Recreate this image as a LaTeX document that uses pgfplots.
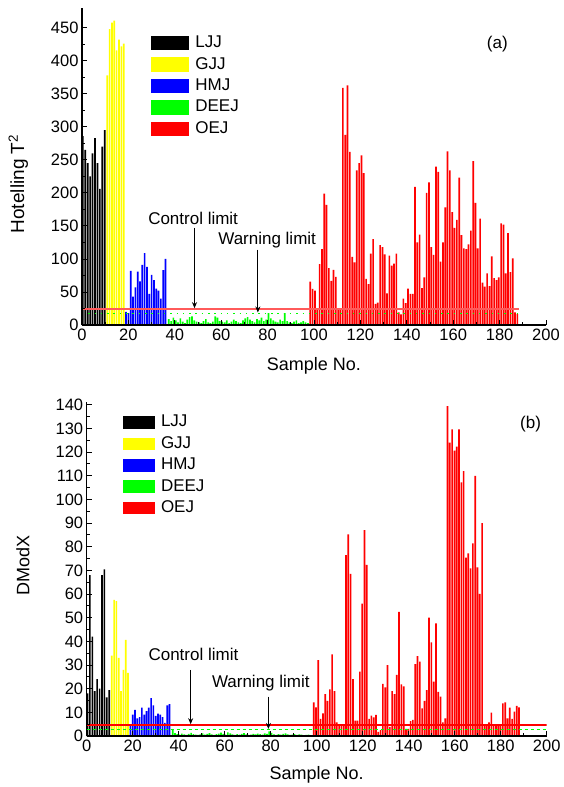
\documentclass[border=0pt]{standalone}
\usepackage{pgfplots}
\pgfplotsset{compat=1.18}
\usepackage{pgfplotstable}
\usepackage{fontspec}
\setmainfont{Liberation Sans}
\usetikzlibrary{arrows.meta}

\definecolor{cK}{RGB}{0,0,0}
\definecolor{cY}{RGB}{255,255,0}
\definecolor{cB}{RGB}{0,0,255}
\definecolor{cG}{RGB}{0,255,0}
\definecolor{cR}{RGB}{255,0,0}
\definecolor{cLR}{RGB}{255,90,90}

% ---------- panel (a) ----------
\pgfplotstableread[row sep=\\]{y\\286\\265\\245\\225\\260\\283\\245\\206\\270\\295\\}\blackA
\pgfplotstableread[row sep=\\]{y\\378\\448\\458\\461\\416\\432\\422\\426\\}\yellowA
\pgfplotstableread[row sep=\\]{y\\20\\18\\82\\43\\57\\81\\66\\91\\109\\88\\47\\76\\68\\55\\52\\40\\83\\100\\}\blueA
\pgfplotstableread[row sep=\\]{y\\9\\6\\11\\7\\4\\10\\5\\3\\8\\12\\13\\7\\5\\4\\3\\6\\9\\4\\3\\5\\13\\11\\6\\5\\4\\7\\3\\5\\8\\6\\4\\3\\7\\10\\12\\8\\6\\4\\9\\7\\11\\6\\8\\18\\10\\7\\5\\4\\8\\6\\18\\6\\4\\3\\5\\7\\3\\4\\6\\4\\3\\}\greenA
\pgfplotstableread[row sep=\\]{y\\65.8\\54.6\\52\\23\\92\\115\\199\\182\\86\\66.8\\83.5\\73\\23\\23\\359\\288\\363\\262\\103\\95\\234\\245\\257\\230\\70\\62\\108\\130\\32\\34\\121\\118\\107\\48\\105\\90\\93\\108\\19\\16\\40\\33\\55\\47\\47\\209\\125\\137\\56\\72\\200\\216\\118\\106\\240\\232\\96\\125\\178\\263\\234\\171\\147\\159\\223\\136\\116\\115\\122\\143\\248\\185\\116\\161\\64\\58\\78\\59\\104\\71\\68\\72\\154\\152\\78\\139\\80\\101\\19\\17\\}\redA

% ---------- panel (b) ----------
\pgfplotstableread[row sep=\\]{y\\18\\68\\42\\19\\24\\20\\68\\70.4\\16.3\\19.4\\}\blackB
\pgfplotstableread[row sep=\\]{y\\34\\57.5\\57\\33\\19\\28\\40.6\\26.7\\}\yellowB
\pgfplotstableread[row sep=\\]{y\\5\\9\\11\\7.5\\8\\12\\9\\10.5\\12\\16\\13\\8.5\\9.5\\9\\8\\5.5\\13\\13.5\\}\blueB
\pgfplotstableread[row sep=\\]{y\\2.5\\1.2\\0.8\\0.6\\1.0\\0.7\\0.5\\0.9\\1.3\\0.8\\0.6\\0.5\\0.7\\1.1\\0.6\\0.9\\1.2\\0.7\\0.5\\0.8\\1.0\\1.4\\0.9\\0.6\\1.5\\1.1\\0.7\\0.5\\0.8\\0.6\\0.9\\1.2\\0.7\\0.5\\0.6\\0.9\\0.7\\1.0\\0.8\\0.6\\1.1\\0.9\\2.0\\1.3\\0.7\\0.5\\0.8\\0.6\\0.9\\1.1\\0.7\\0.5\\0.6\\0.8\\0.5\\0.7\\0.6\\0.4\\0.5\\0.6\\0.4\\}\greenB
\pgfplotstableread[row sep=\\]{y\\14.2\\12.1\\32.1\\7.2\\9.6\\17.7\\14.8\\19.7\\34.5\\19\\5.8\\4.6\\4.4\\4.4\\76.5\\85.2\\68.5\\24\\6.5\\6.5\\27.2\\56\\87\\72.3\\7.2\\8.6\\7.9\\8.9\\1.8\\2.5\\22\\20.6\\30\\3.9\\19\\17.7\\25.8\\52.5\\21.8\\21\\3\\3\\6.3\\6.8\\30.4\\33.8\\31.4\\11.7\\14.8\\19.4\\50\\39.6\\23\\47.6\\18.7\\16.6\\5.8\\7.5\\139.4\\124\\129.6\\120.6\\122.3\\129.6\\107.2\\112\\75.4\\77.2\\70.8\\81.4\\110\\71.3\\60.1\\90\\4.4\\4.6\\5.8\\9.9\\4.2\\4.2\\5\\5\\13.8\\14.2\\7.5\\12\\7.2\\10.3\\12.7\\12.1\\}\redB

\pgfplotsset{
  mybarA/.style={ybar, bar width=0.72, bar shift=0pt, draw=none, fill=#1,
    legend image code/.code={\fill[fill=#1] (0pt,-7.2pt) rectangle (38pt,7.2pt);}},
  mybarB/.style={ybar, bar width=0.72, bar shift=0pt, draw=none, fill=#1,
    legend image code/.code={\fill[fill=#1] (0pt,-6.3pt) rectangle (32pt,6.3pt);}},
  myaxis/.style={
    scale only axis, axis on top,
    axis x line*=bottom, axis y line*=left,
    tick align=inside, major tick length=5pt, minor tick length=3pt,
    xmin=0, xmax=200, xtick={0,20,...,200}, minor x tick num=1,
    tick style={black, line width=0.9pt},
    axis line style={line width=1.2pt},
    tick label style={font=\fontsize{16.5}{18}\selectfont},
    label style={font=\fontsize{18}{20}\selectfont},
    /pgf/number format/assume math mode=true,
    xlabel={Sample No.},
    legend cell align=left,
    legend style={draw=none, fill=none, inner sep=0pt,
      font=\fontsize{17}{19}\selectfont, row sep=4.4pt, column sep=5pt,
      nodes={font=\fontsize{17}{19}\selectfont, inner sep=1pt, text height=12pt, text depth=3pt}},
  }
}

\begin{document}
\begin{tikzpicture}
\useasboundingbox (0pt,0pt) rectangle (563pt,-787pt);

% ================= (a) =================
\begin{axis}[myaxis, at={(82pt,-325pt)}, anchor=south west,
  width=464pt, height=317pt, ymin=0, ymax=480,
  ytick={0,50,...,450}, minor y tick num=1,
  ylabel={Hotelling T\textsuperscript{2}},
  ylabel style={at={(axis description cs:-0.137,0.445)}, anchor=center, font=\fontsize{19}{21}\selectfont},
  xlabel style={at={(axis description cs:0.5,-0.129)}, anchor=center},
  legend style={at={(axis cs:29.8,440)}, anchor=north west}]
\addplot[mybarA=cK] table[x expr=\coordindex*1.05+0.35, y=y] {\blackA};
\addplot[mybarA=cY] table[x expr=\coordindex*1.01+10.9, y=y] {\yellowA};
\addplot[mybarA=cB] table[x expr=\coordindex+19.0, y=y] {\blueA};
\addplot[mybarA=cG] table[x expr=\coordindex+37.4, y=y] {\greenA};
\addplot[mybarA=cR] table[x expr=\coordindex*1.003+98.4, y=y] {\redA};
\legend{LJJ,GJJ,HMJ,DEEJ,OEJ}
\addplot[forget plot, draw=cLR, line width=1.6pt] coordinates {(0,24.3) (188.2,24.3)};
\addplot[forget plot, draw=cG, line width=1.5pt, dash pattern=on 1.5pt off 4.8pt] coordinates {(0,17.7) (188.2,17.7)};
\draw[-{Stealth[length=6pt,width=5pt]}, line width=0.8pt] (axis cs:48.5,147) -- (axis cs:48.5,25.5);
\draw[-{Stealth[length=6pt,width=5pt]}, line width=0.8pt] (axis cs:75.8,114) -- (axis cs:75.8,19);
\node[font=\fontsize{17}{19}\selectfont] at (axis cs:47.9,162) {Control limit};
\node[font=\fontsize{17}{19}\selectfont] at (axis cs:79.8,129) {Warning limit};
\node[font=\fontsize{17}{19}\selectfont] at (axis cs:179,426) {(a)};
\end{axis}

% ================= (b) =================
\begin{axis}[myaxis, at={(86.7pt,-736pt)}, anchor=south west,
  width=460pt, height=333.6pt, ymin=0, ymax=141,
  ytick={0,10,...,140}, minor y tick num=1,
  ylabel={DModX},
  ylabel style={at={(axis description cs:-0.1385,0.51)}, anchor=center},
  xlabel style={at={(axis description cs:0.5,-0.117)}, anchor=center},
  legend style={at={(axis cs:15.7,136.2)}, anchor=north west}]
\addplot[mybarB=cK] table[x expr=\coordindex*1.05+0.35, y=y] {\blackB};
\addplot[mybarB=cY] table[x expr=\coordindex*1.01+10.9, y=y] {\yellowB};
\addplot[mybarB=cB] table[x expr=\coordindex+19.0, y=y] {\blueB};
\addplot[mybarB=cG] table[x expr=\coordindex+37.4, y=y] {\greenB};
\addplot[mybarB=cR] table[x expr=\coordindex*1.003+98.7, y=y] {\redB};
\legend{LJJ,GJJ,HMJ,DEEJ,OEJ}
\addplot[forget plot, draw=cR, line width=1.3pt] coordinates {(0,4.6) (200,4.6)};
\addplot[forget plot, draw=cG, line width=1.5pt, dash pattern=on 3pt off 3pt] coordinates {(0,2.8) (200,2.8)};
\draw[-{Stealth[length=6pt,width=5pt]}, line width=0.8pt] (axis cs:45.2,27.9) -- (axis cs:45.2,5.0);
\draw[-{Stealth[length=6pt,width=5pt]}, line width=0.8pt] (axis cs:79,16.6) -- (axis cs:79,3.0);
\node[font=\fontsize{17}{19}\selectfont] at (axis cs:46.4,34.5) {Control limit};
\node[font=\fontsize{17}{19}\selectfont] at (axis cs:75.7,22.3) {Warning limit};
\node[font=\fontsize{17}{19}\selectfont] at (axis cs:193,132) {(b)};
\end{axis}
\end{tikzpicture}
\end{document}
